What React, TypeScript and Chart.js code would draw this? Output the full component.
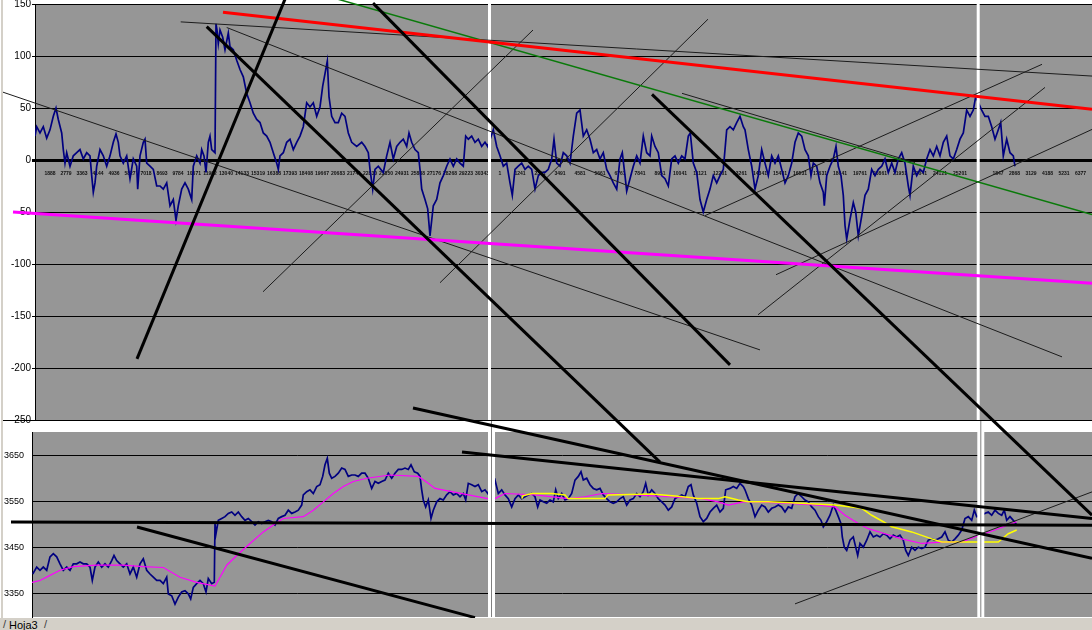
import React, { useEffect, useRef } from "react";
import { Chart, registerables } from "chart.js";

Chart.register(...registerables);

// ---------- Top panel: oscillator (x = observation index, y = value) ----------
const oscillator: [number, number][] = [
  [0,23],[1.7,32],[5,26],[8.3,32],[11.7,21],[15,29],[18.3,42],[21,50],[23.3,39],[26.7,26],[28.3,10],[30,-3],[31.7,7],[35,-6],[38.3,4],[41.7,7],[45,10],[48.3,1],[51.7,7],[55,4],[56.7,-15],[58.3,-31],[60,-22],[61.7,-6],[65,10],[68.3,4],[71.7,-6],[75,4],[78.3,17],[81,25],[83.3,17],[85,4],[88.3,-3],[91.7,4],[95,-18],[98.3,1],[101.7,-6],[102.7,-28],[105,4],[108.3,17],[110,20],[111.7,-3],[115,-6],[118.3,-9],[121.7,-25],[125,-25],[128.3,-28],[131.7,-22],[135,-44],[138.3,-38],[141,-58],[143.3,-44],[146.7,-28],[150,-22],[153.3,-28],[156.7,-38],[158.3,-6],[161.7,4],[165,-3],[166.7,10],[169,4],[171,-12],[173.3,17],[175,23],[176.7,10],[180,7],[181,131],[182,125],[183.3,112],[185,125],[187.7,118],[190,106],[193.3,122],[195,109],[198.3,106],[201.7,96],[205,87],[208.3,80],[211.7,64],[215,55],[218.3,45],[221.7,39],[225,36],[228.3,26],[231.7,23],[235,17],[238.3,7],[241.7,-3],[243.3,-9],[245,4],[248.3,7],[251.7,17],[255,20],[258.3,10],[261.7,17],[265,23],[268.3,32],[271.7,55],[275,51],[278.3,55],[281.7,42],[285,51],[287.7,71],[290,83],[292.3,95],[294,61],[296.7,42],[300,36],[303.3,36],[306.7,45],[310,42],[313.3,26],[316.7,17],[321.7,13],[326.7,17],[330,13],[333.3,7],[335,-9],[337.7,-28],[340,-9],[343.3,-6],[348.3,-12],[351.7,4],[355,17],[358.3,1],[361.7,13],[365,17],[368.3,20],[371.7,13],[374,26],[376.7,17],[380,10],[383.3,7],[385,-9],[386.7,-28],[390,-38],[392.7,-47],[395,-73],[398.3,-44],[401.7,-38],[405,-22],[408.3,-15],[411.7,-6],[415,1],[418.3,-6],[421.7,1],[425,-3],[428.3,-6],[430.7,23],[433.3,20],[436.7,23],[440,17],[443.3,20],[446.7,13],[450,17],[452.7,13],[458.3,29],[461.7,13],[465,4],[468.3,-6],[471.7,-3],[475,-22],[477.3,-34],[480,-9],[483.3,-6],[486.7,-3],[490,-9],[493.3,-6],[496.7,-9],[500,-28],[503.3,-15],[506.7,-12],[510,-12],[513.3,-9],[516.7,1],[519,20],[521.7,-3],[525,-6],[528.3,7],[531.7,4],[535,-3],[538.3,23],[541.7,45],[545,48],[548.3,23],[551.7,29],[555,20],[558.3,7],[561.7,10],[565,1],[568.3,7],[571.7,-9],[575,-15],[578.3,-22],[581.7,-28],[585,1],[587.3,7],[590,-15],[591.7,-30],[595,-18],[598.3,-6],[601.7,4],[605,-3],[608.3,23],[611.7,7],[615,4],[616.7,23],[620,13],[623.3,7],[626.7,-15],[630,-18],[633.3,-25],[636.7,1],[640,4],[643.3,-3],[646.7,4],[650,1],[653.3,23],[655.3,26],[658.3,-3],[661.7,-12],[665,-38],[668.3,-50],[671.7,-38],[675,-28],[678.3,-15],[681.7,-22],[685,-15],[688.3,-9],[691.7,29],[695,32],[698.3,29],[701.7,36],[705,42],[708.3,32],[710,29],[713.3,10],[716.7,-6],[720,-28],[723.3,-15],[726.7,10],[730,-3],[733.3,-15],[736.7,4],[740,-3],[743.3,4],[746.7,-9],[750,-22],[753.3,-15],[756.7,-3],[760,17],[763.3,26],[766.7,23],[770,10],[773.3,4],[776,-15],[778.3,-3],[781.7,-6],[785,-22],[788.3,-31],[789.3,-44],[791.7,-15],[795,-6],[798.3,1],[801,13],[803.3,-6],[806,-15],[808.3,-34],[810,-63],[811.7,-76],[815,-57],[818.3,-41],[820.7,-50],[823.3,-73],[826.7,-54],[830,-34],[833.3,-28],[836.7,-9],[840,-15],[843.3,-9],[846.7,-6],[850,1],[853.3,-12],[856.7,-3],[860,-12],[863.3,1],[866.7,7],[870,-3],[873.3,-25],[875,-34],[878.3,-6],[881.7,-15],[885,-9],[888.3,-12],[891.7,1],[895,10],[898.3,4],[901.7,13],[905,4],[908.3,17],[911.7,23],[915,4],[918.3,1],[921.7,10],[925,20],[928.3,26],[931.7,48],[935,42],[938.3,48],[940.7,61],[946.7,48],[950,42],[953.3,42],[956.7,32],[960,20],[963.3,29],[965.7,36],[968.3,4],[971.7,20],[975,7],[978.3,4],[980,-6]
];

// x-axis category labels shown along the zero line (three window panes)
const xLabelsLeftPane = ["1888","2779","3363","4144","4936","5827","7018","8693","9784","10671","11902","13040","14133","15319","16388","17393","18408","19667","20683","21741","22830","23850","24931","25888","27176","28268","29223","30343"];
const xLabelsMidPane = ["1","1241","2351","3491","4581","5661","6761","7841","8951","10041","11121","12201","13261","14341","15431","16531","17631","18641","19761","20861","21951","23041","24121","25201"];
const xLabelsRightPane = ["1847","2868","3129","4188","5231","6377"];

// trend lines drawn on the top panel: [x1, y1, x2, y2] in top-panel units
const redLines = [[188, 142.1, 1057, 48.7]];
const magentaLines = [[-22, -49.9, 1057, -118.5]];
const greenLines = [[303, 154.6, 1057, -52.5]];
const thickBlackLines = [
  [171.7, 128.3, 625, -290.5],
  [338, 150.8, 695, -197],
  [617, 63.1, 1057, -341.5],
  [102, -191.2, 250, 154.6],
  [378, -238.4, 1057, -383],
];
const thinBlackLines = [
  [647, 64.1, 880, -2.4],
  [145.7, 132.8, 1057, 80.7],
  [-32.3, 65.3, 725, -182.6],
  [191.7, 127.4, 1027, -189.3],
  [228, -126.7, 498, 125],
  [405, -118, 673, 135.4],
  [670, -53.5, 1007, 92],
  [741, -110.3, 1057, 29.4],
  [723, -148.8, 1010, 69.8],
];

// ---------- Bottom panel: price ----------
const price: [number, number][] = [
  [-2.3,3393],[1.7,3408],[5,3401],[8.3,3408],[11.7,3401],[15,3430],[18.3,3437],[21.7,3430],[25,3415],[28.3,3401],[31.7,3408],[35,3401],[38.3,3415],[41.7,3415],[45,3419],[48.3,3415],[51.7,3415],[55,3408],[57.3,3379],[60,3408],[63.3,3419],[66.7,3408],[70,3415],[73.3,3408],[76.7,3422],[79,3433],[81.7,3422],[85,3415],[88.3,3408],[91.7,3415],[95,3393],[98.3,3408],[101.7,3386],[105,3415],[108.3,3426],[111.7,3401],[115,3393],[118.3,3386],[121.7,3379],[125,3379],[128.3,3372],[131.7,3386],[133.3,3350],[136.7,3346],[140,3328],[143.3,3343],[146.7,3354],[150,3357],[153.3,3350],[155.7,3339],[158.3,3364],[161.7,3372],[165,3379],[168.3,3372],[171,3354],[173.3,3383],[176.7,3372],[179.3,3375],[180,3502],[181,3480],[183.3,3509],[186.7,3513],[190,3517],[193.3,3524],[196.7,3527],[200,3520],[203.3,3527],[206.7,3517],[210,3509],[213.3,3513],[216.7,3506],[220,3499],[223.3,3506],[226.7,3502],[230,3506],[233.3,3509],[236.7,3506],[240,3499],[243.3,3513],[246.7,3517],[250,3520],[253.3,3531],[256.7,3524],[260,3527],[263.3,3531],[266.7,3542],[268.3,3564],[271.7,3571],[275,3575],[278.3,3567],[281.7,3582],[285,3586],[287.7,3604],[290,3629],[292.3,3643],[294.3,3611],[296.7,3600],[300,3604],[303.3,3611],[306.7,3622],[310,3619],[313.3,3604],[316.7,3607],[320,3607],[323.3,3604],[326.7,3611],[330,3611],[333.3,3600],[336.7,3578],[340,3593],[343.3,3589],[346.7,3593],[350,3596],[353.3,3611],[356.7,3600],[360,3611],[363.3,3619],[366.7,3619],[370,3622],[373.3,3619],[376,3629],[379.3,3614],[382.7,3611],[385,3604],[386.7,3575],[388.3,3553],[390.7,3538],[393.3,3553],[396,3513],[398.3,3531],[401.7,3549],[405,3556],[408.3,3553],[411.7,3564],[415,3571],[418.3,3564],[421.7,3567],[425,3560],[428.3,3567],[430.7,3553],[433.3,3589],[436.7,3586],[440,3582],[443.3,3586],[446.7,3571],[450,3575],[452.7,3567],[460,3596],[463.3,3567],[466.7,3575],[470,3564],[473.3,3556],[476.7,3538],[480,3556],[483.3,3564],[486.7,3556],[490,3560],[493.3,3564],[496.7,3567],[500,3560],[502.7,3538],[505,3553],[508.3,3549],[511.7,3546],[515,3553],[518.3,3549],[520.7,3575],[523.3,3556],[526.7,3567],[530,3553],[533.3,3556],[536.7,3567],[540,3596],[543.3,3604],[546,3614],[548.3,3596],[551.7,3600],[555,3586],[558.3,3578],[561.7,3575],[565,3578],[568.3,3564],[571.7,3556],[575,3549],[578.3,3546],[581.7,3549],[585,3556],[588.3,3560],[591.7,3542],[595,3553],[598.3,3556],[601.7,3567],[605,3560],[608.3,3571],[610.7,3589],[613.3,3564],[616.7,3575],[620,3567],[623.3,3556],[626.7,3549],[630,3542],[633.3,3531],[636.7,3538],[640,3556],[643.3,3560],[646.7,3564],[650,3560],[653.3,3582],[656,3586],[658.3,3564],[661.7,3546],[665,3517],[668.3,3506],[671.7,3513],[675,3527],[678.3,3535],[681.7,3542],[685,3527],[688.3,3535],[690.7,3575],[695,3578],[698.3,3582],[701.7,3578],[705,3589],[708.3,3582],[710,3575],[713.3,3556],[716.7,3542],[720,3517],[723.3,3531],[726.7,3542],[730,3538],[733.3,3527],[736.7,3535],[740,3538],[743.3,3542],[746.7,3538],[750,3527],[753.3,3538],[756.7,3535],[760,3560],[763.3,3567],[766.7,3560],[770,3553],[773.3,3549],[776.7,3538],[780,3531],[783.3,3517],[786,3509],[788.3,3495],[791.7,3506],[795,3520],[798.3,3542],[800.7,3531],[803.3,3517],[806,3502],[807.3,3473],[809.3,3451],[811.7,3444],[815,3466],[818.3,3473],[820.7,3451],[822.7,3433],[825,3459],[828.3,3451],[831.7,3466],[835,3484],[838.3,3473],[841.7,3477],[845,3473],[848.3,3480],[851.7,3477],[855,3469],[858.3,3477],[861.7,3473],[865,3477],[868.3,3466],[870.7,3444],[873.3,3433],[876.7,3451],[880,3444],[883.3,3451],[886.7,3448],[890,3451],[893.3,3466],[896.7,3469],[900,3466],[903.3,3469],[906.7,3473],[910,3484],[913.3,3466],[916.7,3462],[920,3469],[923.3,3477],[926.7,3488],[930,3513],[933.3,3517],[936.7,3509],[939.3,3531],[941.7,3517],[950,3524],[953.3,3527],[956.7,3520],[960,3531],[963.3,3524],[966.7,3520],[969.3,3531],[971.7,3509],[975,3517],[978.3,3509],[981.7,3499]
];
const movingAverage: [number, number][] = [
  [-3,3375],[5,3379],[15,3390],[25,3401],[38.3,3409],[61.7,3412],[88.3,3412],[108.3,3409],[128.3,3407],[145,3386],[161.7,3375],[180,3367],[185,3386],[191.7,3412],[201.7,3433],[215,3459],[228.3,3484],[238.3,3499],[248.3,3513],[268.3,3517],[278.3,3531],[288.3,3549],[298.3,3567],[308.3,3582],[318.3,3593],[331.7,3600],[355,3607],[383.3,3604],[393.3,3589],[400,3578],[416.7,3571],[433.3,3564],[452.7,3556],[460,3556],[470,3567],[500,3564],[533.3,3556],[550,3560],[566.7,3567],[600,3564],[633.3,3560],[666.7,3556],[683.3,3549],[693.3,3542],[708.3,3549],[720,3549],[750,3546],[783.3,3542],[800,3538],[810,3520],[823.3,3502],[833.3,3491],[850,3480],[866.7,3469],[886.7,3459],[906.7,3462],[926.7,3462],[940,3473],[960,3488],[981.7,3506]
];
const signalLine: [number, number][] = [
  [486.7,3556],[488,3562],[496.7,3567],[516.7,3567],[530,3564],[533,3556],[570,3556],[573,3564],[616.7,3566],[643.3,3561],[663.3,3556],[683.3,3556],[690,3560],[703.3,3553],[713.3,3549],[733.3,3549],[766.7,3546],[800,3542],[826.7,3535],[836.7,3520],[848.3,3506],[856.7,3495],[876.7,3484],[896.7,3469],[906.7,3462],[963.3,3462],[973.3,3480],[981.7,3488]
];
const priceTicks = [3350, 3450, 3550, 3650];

// trend lines drawn on the bottom panel: [x1, y1, x2, y2] in price units
const thickBlackLinesBottom = [
  [-24, 3505.4, 1057, 3498.3],
  [102, 3494.6, 440, 3298.7],
  [427, 3656.6, 1057, 3512.8],
];
const thinBlackLinesBottom = [[760, 3328.4, 1057, 3570.5]];

// window pane split positions (x units)
const topSplits = [454.5, 943.2];
const bottomSplits = [456.5, 945.8];

const FONT = "'Liberation Sans', Arial, sans-serif";
const PLOT_BG = "#969696";

function strokeSegments(chart: any, segs: number[][], color: string, width: number) {
  const { ctx, scales } = chart;
  const xs = scales.x, ys = scales.y;
  ctx.save();
  ctx.strokeStyle = color;
  ctx.lineWidth = width;
  ctx.lineCap = "butt";
  segs.forEach(([a, b, c, d]) => {
    ctx.beginPath();
    ctx.moveTo(xs.getPixelForValue(a), ys.getPixelForValue(b));
    ctx.lineTo(xs.getPixelForValue(c), ys.getPixelForValue(d));
    ctx.stroke();
  });
  ctx.restore();
}

const topDecor = {
  id: "topDecor",
  beforeDraw(chart: any) {
    const { ctx, chartArea: a } = chart;
    ctx.save();
    ctx.fillStyle = PLOT_BG;
    ctx.fillRect(a.left, a.top, a.right - a.left, a.bottom - a.top);
    ctx.restore();
  },
  afterDatasetsDraw(chart: any) {
    const { ctx, chartArea: a, scales } = chart;
    ctx.save();
    ctx.fillStyle = "#ffffff";
    topSplits.forEach((v) => {
      const px = scales.x.getPixelForValue(v);
      ctx.fillRect(px - 1.5, 0, 3, a.bottom);
    });
    ctx.restore();
  },
  afterDraw(chart: any) {
    const { ctx, chartArea: a } = chart;
    ctx.save();
    ctx.strokeStyle = "#000";
    ctx.lineWidth = 1;
    ctx.beginPath();
    ctx.moveTo(a.left - 32, a.bottom + 0.5);
    ctx.lineTo(a.right, a.bottom + 0.5);
    ctx.stroke();
    ctx.restore();
    strokeSegments(chart, thinBlackLines, "#1c1c1c", 1);
    strokeSegments(chart, greenLines, "#0a7a0a", 1.5);
    strokeSegments(chart, magentaLines, "#ff00ff", 3);
    strokeSegments(chart, redLines, "#ff0000", 3);
    strokeSegments(chart, thickBlackLines, "#000000", 3);
  },
};

const bottomDecor = {
  id: "bottomDecor",
  beforeDraw(chart: any) {
    const { ctx, chartArea: a } = chart;
    ctx.save();
    ctx.fillStyle = PLOT_BG;
    ctx.fillRect(a.left, a.top, a.right - a.left, a.bottom - a.top);
    ctx.restore();
  },
  afterDatasetsDraw(chart: any) {
    const { ctx, chartArea: a, scales } = chart;
    ctx.save();
    bottomSplits.forEach((v) => {
      const px = scales.x.getPixelForValue(v);
      ctx.fillStyle = "#ffffff";
      ctx.fillRect(px - 3.5, a.top - 12, 7, a.bottom - a.top + 12);
      ctx.fillStyle = "#808080";
      ctx.fillRect(px - 0.5, a.top - 12, 1, a.bottom - a.top + 12);
    });
    ctx.restore();
  },
  afterDraw(chart: any) {
    strokeSegments(chart, thinBlackLinesBottom, "#1c1c1c", 1);
    strokeSegments(chart, thickBlackLinesBottom, "#000000", 3);
  },
};

const xTickList = [
  ...xLabelsLeftPane.map((label, i) => ({ value: 15 + 16 * i, label })),
  ...xLabelsMidPane.map((label, i) => ({ value: 465 + 20 * i, label })),
  ...xLabelsRightPane.map((label, i) => ({ value: 963 + 16.5 * i, label })),
];

const toXY = (arr: [number, number][]) => arr.map(([x, y]) => ({ x, y }));

export default function App() {
  const topRef = useRef<HTMLCanvasElement>(null);
  const botRef = useRef<HTMLCanvasElement>(null);

  useEffect(() => {
    document.body.style.margin = "0";
    const top = new Chart(topRef.current as HTMLCanvasElement, {
      type: "line",
      data: {
        datasets: [
          {
            data: toXY(oscillator),
            borderColor: "#000080",
            borderWidth: 1.7,
            pointRadius: 0,
            tension: 0,
          },
        ],
      },
      options: {
        animation: false,
        responsive: false,
        devicePixelRatio: 1,
        layout: { padding: { top: 4, bottom: 210, left: 0, right: 0 } },
        plugins: { legend: { display: false }, tooltip: { enabled: false } },
        events: [],
        scales: {
          x: {
            type: "linear",
            min: 0,
            max: 1057,
            position: { y: 0 } as any,
            grid: { display: false },
            border: { display: false },
            afterBuildTicks: (s: any) => {
              s.ticks = xTickList.map((t) => ({ value: t.value }));
            },
            afterFit: (s: any) => {
              s.paddingLeft = 0;
              s.paddingRight = 0;
            },
            ticks: {
              autoSkip: false,
              maxRotation: 0,
              minRotation: 0,
              padding: 3,
              color: "#111",
              font: { family: FONT, size: 5, weight: "bold" },
              callback: (_v: any, i: number) => xTickList[i]?.label ?? "",
            },
          },
          y: {
            type: "linear",
            min: -250,
            max: 150,
            afterFit: (s: any) => {
              s.width = 35;
              s.paddingTop = 0;
              s.paddingBottom = 0;
            },
            grid: {
              color: "#000",
              lineWidth: (c: any) => (c.tick && c.tick.value === 0 ? 3 : 1),
              tickLength: 3,
            },
            border: { display: true, color: "#000", width: 1 },
            ticks: {
              stepSize: 50,
              padding: 1,
              color: "#000",
              font: { family: FONT, size: 10 },
              callback: (v: any) => String(v),
            },
          },
        },
      },
      plugins: [topDecor],
    } as any);

    const bot = new Chart(botRef.current as HTMLCanvasElement, {
      type: "line",
      data: {
        datasets: [
          {
            data: toXY(signalLine),
            borderColor: "#ffff00",
            borderWidth: 1.5,
            pointRadius: 0,
            tension: 0,
            order: 0,
          },
          {
            data: toXY(movingAverage),
            borderColor: "#ff00ff",
            borderWidth: 1.2,
            pointRadius: 0,
            tension: 0,
            order: 1,
          },
          {
            data: toXY(price),
            borderColor: "#000080",
            borderWidth: 1.7,
            pointRadius: 0,
            tension: 0,
            order: 2,
          },
        ],
      },
      options: {
        animation: false,
        responsive: false,
        devicePixelRatio: 1,
        layout: { padding: { top: 432, bottom: 13, left: 0, right: 0 } },
        plugins: { legend: { display: false }, tooltip: { enabled: false } },
        events: [],
        scales: {
          x: { type: "linear", min: -3, max: 1057, display: false },
          y: {
            type: "linear",
            min: 3300,
            max: 3700,
            afterBuildTicks: (s: any) => {
              s.ticks = priceTicks.map((v) => ({ value: v }));
            },
            afterFit: (s: any) => {
              s.width = 32;
              s.paddingTop = 0;
              s.paddingBottom = 0;
            },
            grid: { color: "#000", lineWidth: 1, drawTicks: false },
            border: { display: true, color: "#000", width: 1 },
            ticks: {
              padding: 8,
              color: "#000",
              font: { family: FONT, size: 9 },
              callback: (v: any) => String(v),
            },
          },
        },
      },
      plugins: [bottomDecor],
    } as any);

    return () => {
      top.destroy();
      bot.destroy();
    };
  }, []);

  return (
    <div style={{ position: "relative", width: 1092, height: 630, background: "#fff", overflow: "hidden" }}>
      <canvas ref={botRef} width={1092} height={630} style={{ position: "absolute", left: 0, top: 0 }} />
      <canvas ref={topRef} width={1092} height={630} style={{ position: "absolute", left: 0, top: 0 }} />
      <div style={{ position: "absolute", left: 1, top: 0, width: 2, height: 618, background: "#d4d0c8" }} />
      <div
        style={{
          position: "absolute",
          left: 0,
          top: 618,
          width: 1092,
          height: 12,
          background: "#d4d0c8",
          fontFamily: FONT,
          fontSize: 11,
          lineHeight: "13px",
          color: "#000",
          whiteSpace: "nowrap",
        }}
      >
        <span style={{ position: "absolute", left: 3, top: 0, color: "#404040" }}>/</span>
        <span style={{ position: "absolute", left: 9, top: 1 }}>Hoja3</span>
        <span style={{ position: "absolute", left: 44, top: 0, color: "#404040" }}>/</span>
      </div>
    </div>
  );
}
